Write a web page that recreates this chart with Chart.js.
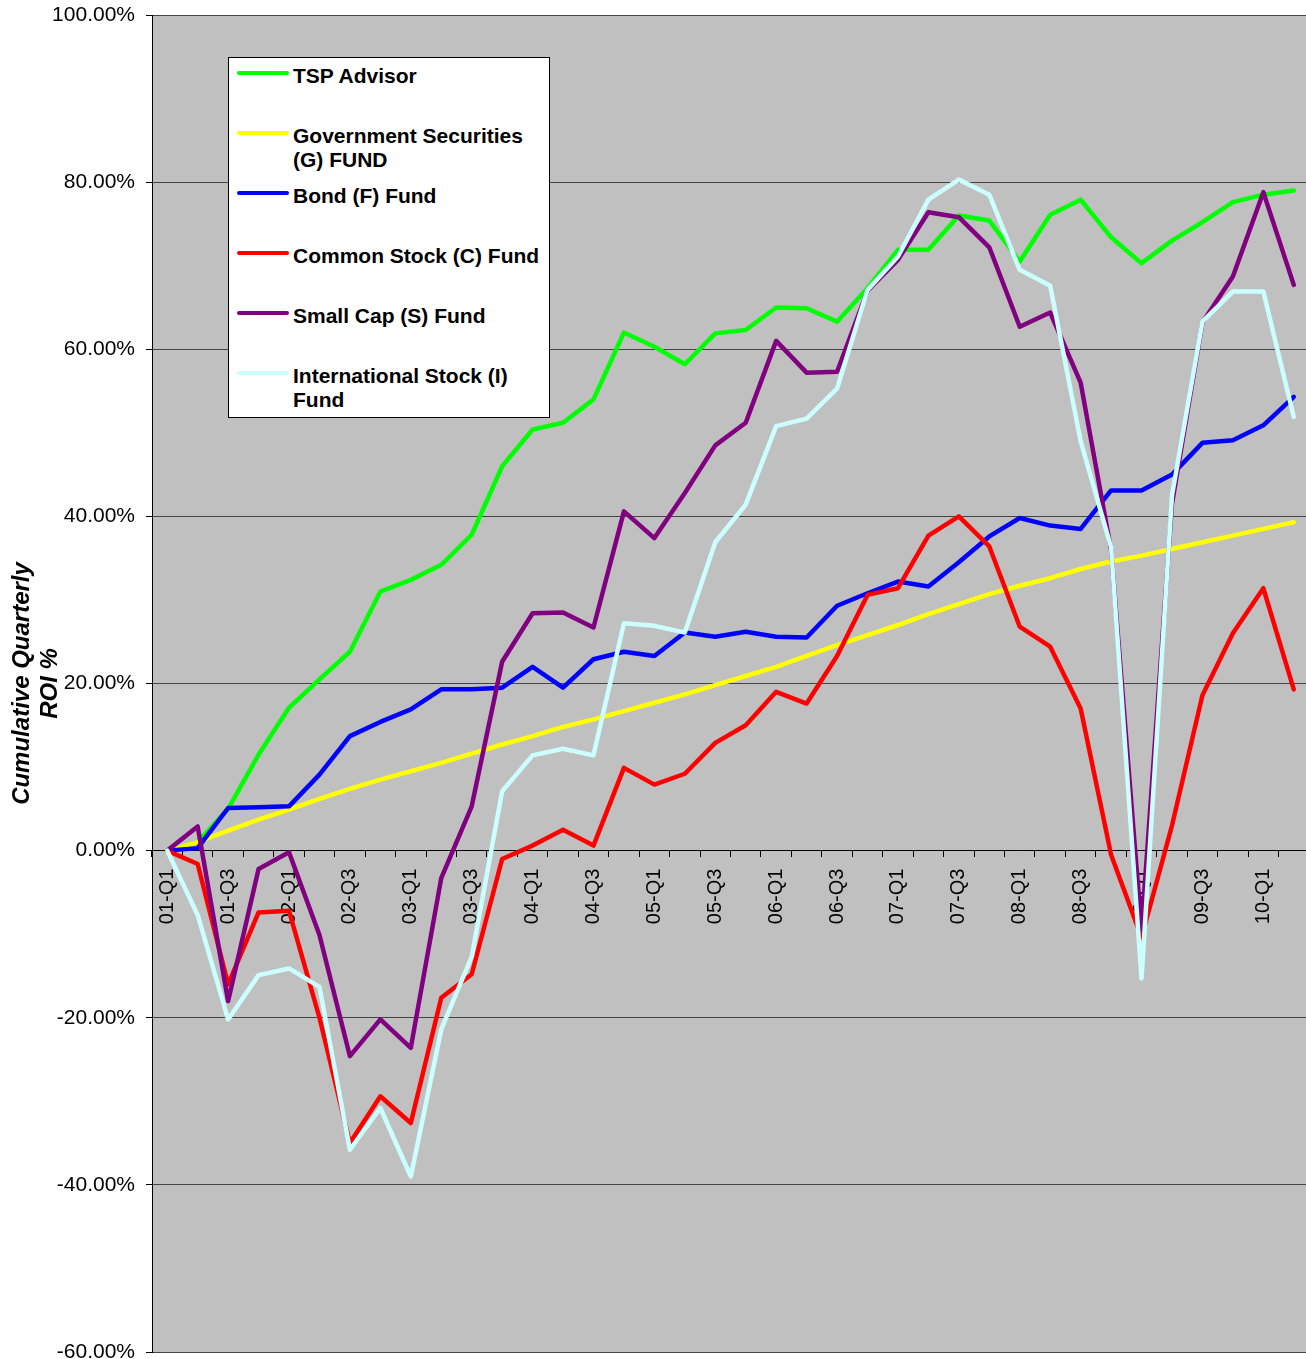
<!DOCTYPE html>
<html>
<head>
<meta charset="utf-8">
<title>Cumulative Quarterly ROI</title>
<script src="https://cdn.jsdelivr.net/npm/chart.js@4.4.1/dist/chart.umd.min.js"></script>
<style>
  html, body { margin: 0; padding: 0; background: #fff; overflow: hidden; }
  #wrap { position: relative; width: 1309px; height: 1359px; }
  #legend {
    position: absolute; left: 228px; top: 57px; width: 320px; height: 359px;
    background: #fff; border: 1px solid #000; color: #000;
    font: bold 21px "Liberation Sans", Arial, sans-serif;
  }
  #legend .swatch { position: absolute; left: 8px; width: 52px; height: 4px; border-radius: 2px; }
  #legend .label { position: absolute; left: 64px; white-space: nowrap; line-height: 24px; }
</style>
</head>
<body>
<div id="wrap">
  <canvas id="roiChart" width="1309" height="1359"></canvas>
  <div id="legend"></div>
</div>
<script>
// quarters 2001 Q1 .. 2010 Q2
const quarters = [
  '01-Q1', '01-Q2', '01-Q3', '01-Q4', '02-Q1', '02-Q2', '02-Q3', '02-Q4',
  '03-Q1', '03-Q2', '03-Q3', '03-Q4', '04-Q1', '04-Q2', '04-Q3', '04-Q4',
  '05-Q1', '05-Q2', '05-Q3', '05-Q4', '06-Q1', '06-Q2', '06-Q3', '06-Q4',
  '07-Q1', '07-Q2', '07-Q3', '07-Q4', '08-Q1', '08-Q2', '08-Q3', '08-Q4',
  '09-Q1', '09-Q2', '09-Q3', '09-Q4', '10-Q1', '10-Q2'
];

// cumulative ROI in percent
const tspAdvisor = [0, 1.0, 5.0, 11.5, 17.1, 20.5, 23.8, 31.0, 32.4, 34.2, 37.8, 46.0, 50.4, 51.2, 54.0, 62.0, 60.3, 58.2, 61.9, 62.3,
  65.0, 64.9, 63.3, 67.3, 71.9, 71.9, 76.0, 75.4, 70.5, 76.1, 77.9, 73.4, 70.3, 73.0, 75.2, 77.6, 78.5, 79.0];
const gFund = [0, 1.0, 2.4, 3.7, 4.9, 6.2, 7.4, 8.5, 9.5, 10.5, 11.6, 12.7, 13.7, 14.8, 15.7, 16.7, 17.7, 18.7, 19.8, 20.9,
  22.0, 23.3, 24.6, 25.8, 27.0, 28.3, 29.5, 30.7, 31.7, 32.6, 33.7, 34.6, 35.3, 36.1, 36.9, 37.7, 38.5, 39.3];
const fFund = [0, 0.3, 5.1, 5.2, 5.3, 9.1, 13.7, 15.4, 16.9, 19.3, 19.3, 19.5, 22.0, 19.5, 22.9, 23.8, 23.3, 26.1, 25.6, 26.2,
  25.6, 25.5, 29.3, 30.8, 32.2, 31.6, 34.5, 37.6, 39.8, 38.9, 38.5, 43.1, 43.1, 45.0, 48.8, 49.1, 50.9, 54.3];
const cFund = [0, -1.6, -16.0, -7.4, -7.2, -20.0, -35.0, -29.4, -32.6, -17.6, -14.8, -1.0, 0.6, 2.5, 0.6, 9.9, 7.9, 9.2, 12.9, 15.0,
  19.0, 17.6, 23.3, 30.6, 31.4, 37.7, 40.0, 36.4, 26.8, 24.4, 17.0, -0.5, -10.4, 3.0, 18.6, 26.0, 31.4, 19.3];
const sFund = [0, 2.9, -18.0, -2.2, -0.2, -10.1, -24.6, -20.2, -23.6, -3.3, 5.3, 22.6, 28.4, 28.5, 26.7, 40.6, 37.4, 42.8, 48.5, 51.2,
  61.0, 57.2, 57.3, 67.0, 70.7, 76.4, 75.8, 72.2, 62.7, 64.4, 56.0, 36.0, -9.5, 41.5, 63.2, 68.7, 78.8, 67.7];
const iFund = [0, -7.7, -20.2, -14.9, -14.1, -16.3, -35.8, -30.8, -39.0, -21.4, -12.7, 7.1, 11.4, 12.2, 11.4, 27.2, 26.9, 26.1, 36.9, 41.4,
  50.8, 51.7, 55.3, 67.1, 71.1, 77.9, 80.3, 78.5, 69.5, 67.6, 49.0, 36.3, -15.3, 42.5, 63.3, 66.9, 66.9, 51.9];

const seriesNames = [
  ['TSP Advisor'],
  ['Government Securities', '(G) FUND'],
  ['Bond (F) Fund'],
  ['Common Stock (C) Fund'],
  ['Small Cap (S) Fund'],
  ['International Stock (I)', 'Fund']
];
const seriesColors = ['#00ff00', '#ffff00', '#0000ff', '#ff0000', '#800080', '#ccffff'];
const seriesValues = [tspAdvisor, gFund, fFund, cFund, sFund, iFund];

const fontFamily = '"Liberation Sans", Arial, sans-serif';

// grey plot area like the old spreadsheet charts
const plotBackground = {
  id: 'plotBackground',
  beforeDraw(chart) {
    const { ctx, chartArea: a } = chart;
    ctx.save();
    ctx.fillStyle = '#c0c0c0';
    ctx.fillRect(a.left, a.top, a.right - a.left, a.bottom - a.top);
    ctx.restore();
  }
};

const datasets = seriesValues.map((values, i) => ({
  label: seriesNames[i].join(' '),
  data: values,
  borderColor: seriesColors[i],
  backgroundColor: seriesColors[i],
  borderWidth: 4.5,
  pointRadius: 0,
  tension: 0,
  fill: false,
  borderJoinStyle: 'round',
  borderCapStyle: 'round',
  order: seriesValues.length - i   // later series drawn on top
}));

const roiChart = new Chart(document.getElementById('roiChart').getContext('2d'), {
  type: 'line',
  data: { labels: quarters, datasets: datasets },
  plugins: [plotBackground],
  options: {
    responsive: false,
    animation: false,
    layout: { padding: { top: 15, bottom: 7, left: 0, right: 0 } },
    plugins: {
      legend: { display: false },
      tooltip: { enabled: false }
    },
    scales: {
      x: {
        type: 'category',
        position: { y: 0 },
        offset: true,
        grid: { drawOnChartArea: false, drawTicks: true, tickLength: 6, offset: true, color: '#000' },
        border: { display: true, color: '#000', width: 1 },
        ticks: {
          autoSkip: false,
          maxRotation: 90,
          minRotation: 90,
          padding: 12,
          color: '#000',
          font: { size: 20, family: fontFamily },
          callback: function (value, index) {
            return index % 2 === 0 ? this.getLabelForValue(value) : '';
          }
        },
        afterFit(scale) {
          scale.height = 0;
          scale.paddingLeft = 0;
          scale.paddingRight = 0;
        }
      },
      y: {
        min: -60,
        max: 100,
        ticks: {
          stepSize: 20,
          padding: 11,
          color: '#000',
          font: { size: 21, family: fontFamily },
          callback: v => v.toFixed(2) + '%'
        },
        grid: { color: '#444', lineWidth: 1, tickLength: 6, tickColor: '#000' },
        border: { color: '#000', width: 1 },
        title: {
          display: true,
          text: ['Cumulative Quarterly', 'ROI %'],
          color: '#000',
          font: { size: 24, weight: 'bold', style: 'italic', family: fontFamily, lineHeight: 1.17 },
          padding: { top: 8, bottom: 0 }
        },
        afterFit(scale) {
          scale.width = 152;
          scale.paddingTop = 0;
          scale.paddingBottom = 0;
        }
      }
    }
  }
});

// legend box drawn inside the plot
const legendBox = document.getElementById('legend');
seriesNames.forEach((lines, i) => {
  const swatch = document.createElement('div');
  swatch.className = 'swatch';
  swatch.style.top = (13 + 60 * i) + 'px';
  swatch.style.background = seriesColors[i];
  legendBox.appendChild(swatch);

  const label = document.createElement('div');
  label.className = 'label';
  label.style.top = (6 + 60 * i) + 'px';
  lines.forEach((line, k) => {
    if (k > 0) label.appendChild(document.createElement('br'));
    label.appendChild(document.createTextNode(line));
  });
  legendBox.appendChild(label);
});
</script>
</body>
</html>
